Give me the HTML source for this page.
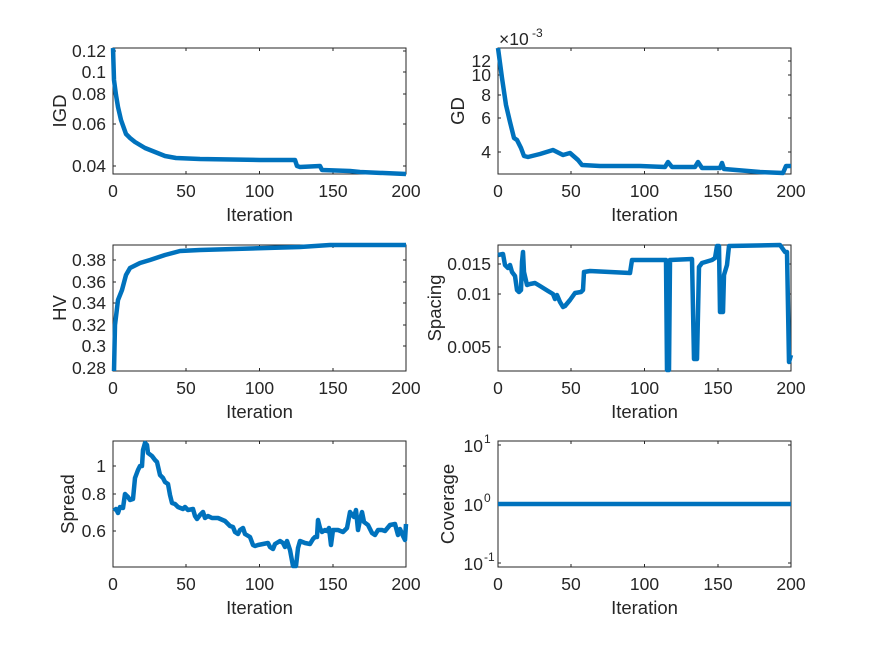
<!DOCTYPE html>
<html><head><meta charset="utf-8"><style>
html,body{margin:0;padding:0;background:#fff}
svg{display:block}
text{font-family:"Liberation Sans",Arial,sans-serif;fill:#262626}
.t{font-size:17.5px}
.l{font-size:18.5px}
.ax{fill:none;stroke:#262626;stroke-width:1}
.s{fill:none;stroke:#0072BD;stroke-width:4.5;stroke-linejoin:round}
</style></head><body>
<svg width="875" height="656" viewBox="0 0 875 656">
<rect width="875" height="656" fill="#fff"/>
<g class="ax">
<rect x="113" y="48" width="293" height="126"/>
<rect x="498" y="48" width="293" height="126"/>
<rect x="113" y="245" width="293" height="126"/>
<rect x="498" y="245" width="293" height="126"/>
<rect x="113" y="441" width="293" height="126"/>
<rect x="498" y="441" width="293" height="126"/>
</g>
<g stroke="#262626" stroke-width="1">
<path d="M186,174v-3M259.5,174v-3M333,174v-3M186,48v3M259.5,48v3M333,48v3"/>
<path d="M571,174v-3M644.5,174v-3M718,174v-3M571,48v3M644.5,48v3M718,48v3"/>
<path d="M186,371v-3M259.5,371v-3M333,371v-3M186,245v3M259.5,245v3M333,245v3"/>
<path d="M571,371v-3M644.5,371v-3M718,371v-3M571,245v3M644.5,245v3M718,245v3"/>
<path d="M186,567v-3M259.5,567v-3M333,567v-3M186,441v3M259.5,441v3M333,441v3"/>
<path d="M571,567v-3M644.5,567v-3M718,567v-3M571,441v3M644.5,441v3M718,441v3"/>
<path d="M113,51h3M113,72h3M113,94h3M113,124h3M113,166h3M406,51h-3M406,72h-3M406,94h-3M406,124h-3M406,166h-3"/>
<path d="M498,61h3M498,75h3M498,95h3M498,118h3M498,152h3M791,61h-3M791,75h-3M791,95h-3M791,118h-3M791,152h-3"/>
<path d="M113,260h3M113,282h3M113,303h3M113,325h3M113,346h3M406,260h-3M406,282h-3M406,303h-3M406,325h-3M406,346h-3"/>
<path d="M498,264h3M498,294h3M498,347h3M791,264h-3M791,294h-3M791,347h-3"/>
<path d="M113,466h3M113,494h3M113,531h3M406,466h-3M406,494h-3M406,531h-3"/>
<path d="M498,445h3M498,504h3M498,563h3M791,445h-3M791,504h-3M791,563h-3"/>
</g>
<g class="t" text-anchor="middle">
<text x="113" y="197">0</text><text x="186" y="197">50</text><text x="259.5" y="197">100</text><text x="333" y="197">150</text><text x="406" y="197">200</text>
<text x="498" y="197">0</text><text x="571" y="197">50</text><text x="644.5" y="197">100</text><text x="718" y="197">150</text><text x="791" y="197">200</text>
<text x="113" y="394">0</text><text x="186" y="394">50</text><text x="259.5" y="394">100</text><text x="333" y="394">150</text><text x="406" y="394">200</text>
<text x="498" y="394">0</text><text x="571" y="394">50</text><text x="644.5" y="394">100</text><text x="718" y="394">150</text><text x="791" y="394">200</text>
<text x="113" y="590">0</text><text x="186" y="590">50</text><text x="259.5" y="590">100</text><text x="333" y="590">150</text><text x="406" y="590">200</text>
<text x="498" y="590">0</text><text x="571" y="590">50</text><text x="644.5" y="590">100</text><text x="718" y="590">150</text><text x="791" y="590">200</text>
</g>
<g class="l" text-anchor="middle">
<text x="259.5" y="221">Iteration</text><text x="644.5" y="221">Iteration</text>
<text x="259.5" y="418">Iteration</text><text x="644.5" y="418">Iteration</text>
<text x="259.5" y="614">Iteration</text><text x="644.5" y="614">Iteration</text>
</g>
<g class="t" text-anchor="end">
<text x="106" y="57">0.12</text><text x="106" y="78">0.1</text><text x="106" y="100">0.08</text><text x="106" y="130">0.06</text><text x="106" y="172">0.04</text>
<text x="491" y="67">12</text><text x="491" y="81">10</text><text x="491" y="101">8</text><text x="491" y="124">6</text><text x="491" y="158">4</text>
<text x="106" y="266">0.38</text><text x="106" y="288">0.36</text><text x="106" y="309">0.34</text><text x="106" y="331">0.32</text><text x="106" y="352">0.3</text><text x="106" y="374">0.28</text>
<text x="491" y="270">0.015</text><text x="491" y="300">0.01</text><text x="491" y="353">0.005</text>
<text x="106" y="472">1</text><text x="106" y="500">0.8</text><text x="106" y="537">0.6</text>
<text x="483" y="452">10</text><text x="483" y="511">10</text><text x="483" y="570">10</text>
</g>
<g font-size="12" text-anchor="start">
<text x="484" y="443">1</text><text x="484" y="502">0</text><text x="484" y="561">-1</text>
</g>
<text x="499" y="45" class="t">×10</text><text x="532" y="37" font-size="12">-3</text>
<g class="l" text-anchor="middle">
<text transform="translate(66,111) rotate(-90)">IGD</text>
<text transform="translate(464,111) rotate(-90)">GD</text>
<text transform="translate(66,308) rotate(-90)">HV</text>
<text transform="translate(441,308) rotate(-90)">Spacing</text>
<text transform="translate(74,504) rotate(-90)">Spread</text>
<text transform="translate(454,504) rotate(-90)">Coverage</text>
</g>
<polyline class="s" points="113,48 114,80 116,95 118,107 121,120 126,134 130,138 135,142 140,145 145,148 150,150 165,156 176,158 200,159 260,160 295,160 297,166 300,167 320,166 322,170 350,171 360,172 406,174"/>
<polyline class="s" points="498,48 502,78 506,105 510,122 514,138 517,140 521,148 524,156 528,157 540,154 553,150 563,155 570,153 578,160 582,165 600,166 640,166 665,167 668,162 672,167 695,167 698,162 702,168 720,168 722,163 724,169 760,172 783,173 786,166 791,166"/>
<polyline class="s" points="114,371 115,325 118,300 122,290 126,275 130,268 140,263 150,260 165,255 180,251 200,250 300,247 330,245 406,245"/>
<polyline class="s" points="498,255 503,254 505,265 508,268 510,265 512,272 515,276 517,290 519,292 521,290 522,262 523,252 524,272 527,285 530,284 535,283 540,286 548,291 553,294 555,299 557,295 560,302 563,307 565,306 570,300 575,293 581,292 583,290 584,272 590,271 610,272 630,273 632,260 660,260 666,260 667,370 669,370 670,260 692,259 694,359 697,359 699,267 702,263 712,260 715,258 717,246 719,246 720,312 723,312 724,275 727,265 729,246 780,245 785,252 787,252 789,362 791,355"/>
<polyline class="s" points="114,511 116,509 118,513 120,507 123,508 125,494 128,497 130,500 133,499 135,478 138,470 140,466 142,466 143,450 145,443 147,445 148,453 152,456 155,460 157,462 160,475 163,478 165,482 168,484 170,495 172,503 175,504 178,507 183,509 185,507 188,510 193,509 195,516 197,519 200,515 203,512 205,518 208,516 212,518 218,518 225,521 230,526 233,527 235,532 238,534 240,530 243,528 245,534 250,537 253,545 255,546 258,545 263,544 268,543 270,547 273,549 275,544 280,541 283,543 285,547 287,541 290,550 293,566 296,566 298,548 300,541 305,543 310,544 313,539 315,537 317,537 318,520 320,528 322,532 325,530 327,531 329,528 331,545 333,530 335,530 338,530 343,532 345,530 347,528 350,512 354,517 356,510 358,530 360,520 362,512 364,522 368,525 372,533 375,535 378,530 382,530 385,531 390,525 395,524 398,535 400,529 403,536 405,540 406,524"/>
<polyline class="s" points="498,504 791,504"/>
</svg>
</body></html>
